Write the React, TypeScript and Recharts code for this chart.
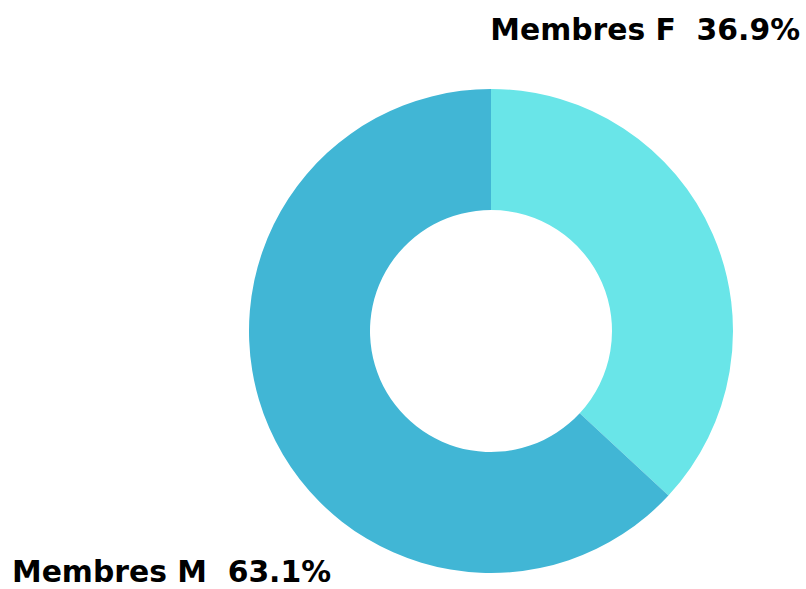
import { PieChart, Pie, Cell } from "recharts";

const NAMES = ["Membres F", "Membres M"];
const VALUES = [36.9, 63.1];
const COLORS = ["#69e5e8", "#41b6d5"];

const data = NAMES.map((name, i) => ({ name, value: VALUES[i] }));

function renderLabel(props: any) {
  const { cx, cy, midAngle, name, percent } = props;
  const right = Math.cos((-midAngle * Math.PI) / 180) > 0;
  const x = right ? cx + 309 : cx - 479;
  const y = right ? cy - 291 : cy + 251;
  return (
    <text
      x={x}
      y={y}
      textAnchor={right ? "end" : "start"}
      fill="#000"
      fontFamily="DejaVu Sans"
      fontWeight="bold"
      fontSize={29.8}
      style={{ whiteSpace: "pre" }}
    >
      {`${name}  ${(percent * 100).toFixed(1)}%`}
    </text>
  );
}

export default function App() {
  return (
    <div style={{ position: "absolute", left: 0, top: 0, width: 806, height: 589, background: "#fff" }}>
      <PieChart width={806} height={589} margin={{ top: 0, right: 0, bottom: 0, left: 0 }}>
        <Pie
          data={data}
          dataKey="value"
          nameKey="name"
          cx={491}
          cy={331}
          outerRadius={242}
          innerRadius={121}
          startAngle={90}
          endAngle={-270}
          stroke="none"
          label={renderLabel}
          labelLine={false}
          isAnimationActive={false}
        >
          {data.map((d, i) => (
            <Cell key={d.name} fill={COLORS[i]} />
          ))}
        </Pie>
      </PieChart>
    </div>
  );
}
